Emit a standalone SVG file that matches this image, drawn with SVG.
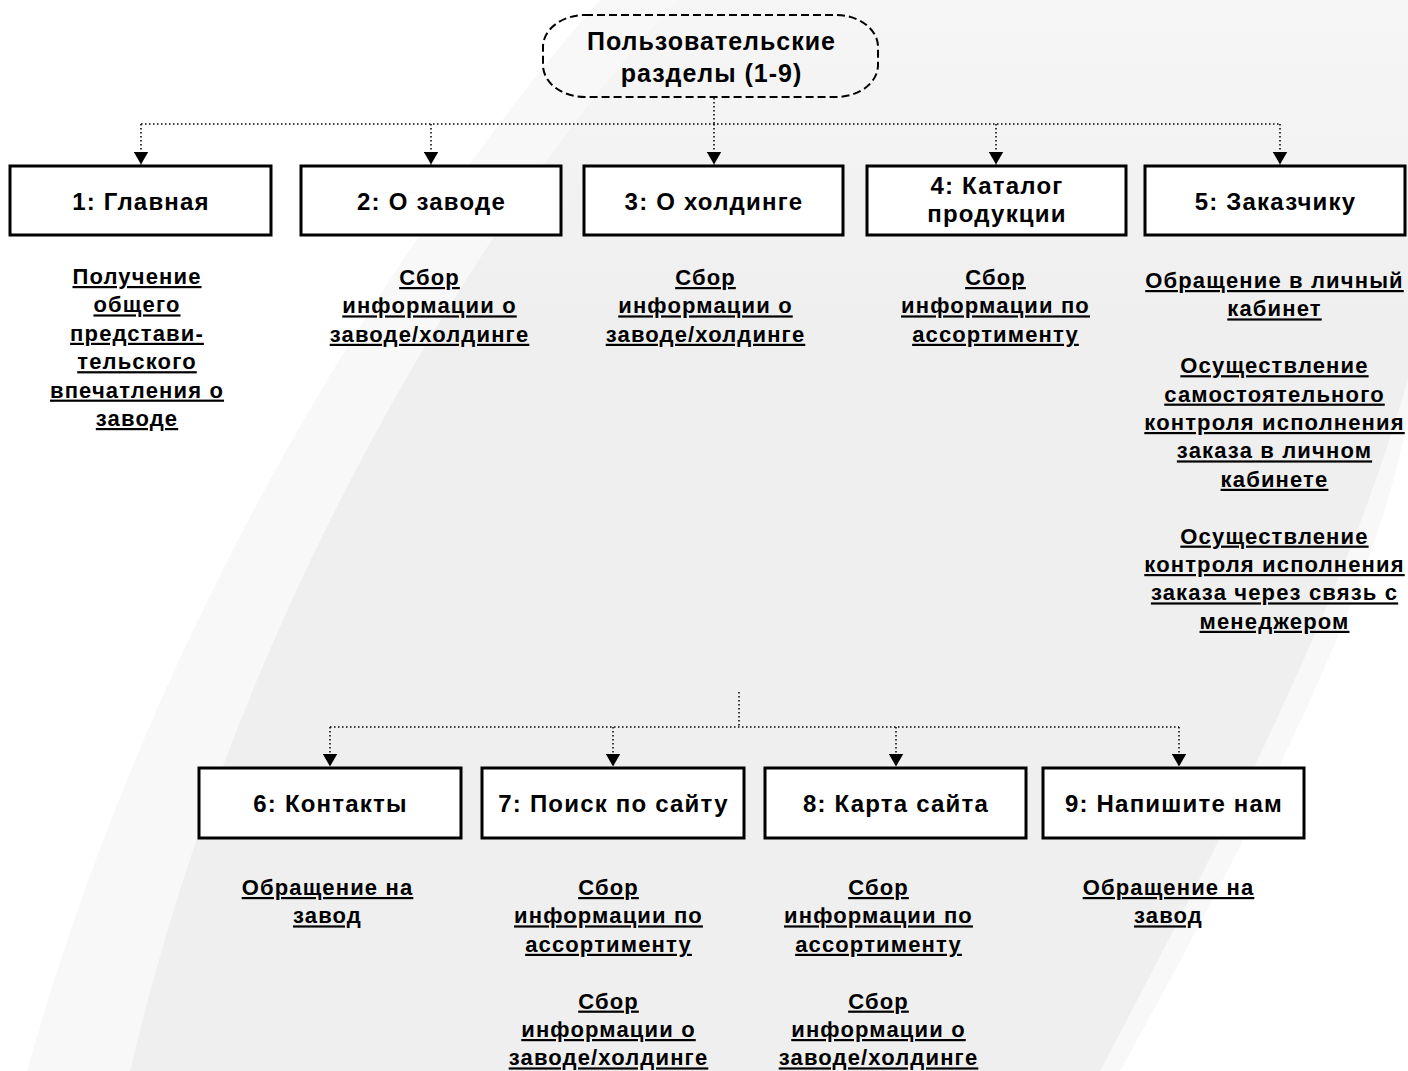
<svg xmlns="http://www.w3.org/2000/svg" width="1408" height="1071" viewBox="0 0 1408 1071">
<defs>
<linearGradient id="bgg" x1="0" y1="0" x2="0" y2="1">
<stop offset="0" stop-color="#f6f6f6"/>
<stop offset="0.3" stop-color="#efefef"/>
<stop offset="1" stop-color="#efefef"/>
</linearGradient>
<marker id="arr" markerWidth="14" markerHeight="15" refX="13" refY="7.5" orient="auto" markerUnits="userSpaceOnUse">
<path d="M0,0 L13,7.5 L0,15 Z" fill="#000"/>
</marker>
<style>
.box{fill:#fff;stroke:#000;stroke-width:3}
.lbl{font-family:"Liberation Sans",Arial,sans-serif;font-weight:bold;font-size:24px;letter-spacing:1.2px;fill:#000;text-anchor:middle}
.ttl{font-family:"Liberation Sans",Arial,sans-serif;font-weight:bold;font-size:25px;letter-spacing:1px;fill:#000;text-anchor:middle}
.dsc{font-family:"Liberation Sans",Arial,sans-serif;font-weight:bold;font-size:22px;letter-spacing:1.15px;fill:#000;text-anchor:middle;text-decoration:underline}
.dot{fill:none;stroke:#000;stroke-width:1.5;stroke-dasharray:1.5 2.5}
.arw{marker-end:url(#arr)}
</style>
</defs>
<g id="background">
<rect x="0" y="0" width="1408" height="1071" fill="url(#bgg)"/>
<path d="M0,0 L677,0 C520,170 250,560 130,1071 L0,1071 Z" fill="#f8f8f8"/>
<path d="M0,0 L600,0 C450,170 170,560 27,1071 L0,1071 Z" fill="#ffffff"/>
<path d="M1408,380 C1380,470 1340,620 1100,1071 L1408,1071 Z" fill="#f8f8f8"/>
<path d="M1408,420 C1390,500 1360,640 1120,1071 L1408,1071 Z" fill="#ffffff"/>
</g>
<g id="connectors">
<path class="dot" d="M714,98 L714,124"/>
<path class="dot" d="M141,124 L1280,124"/>
<path class="dot arw" d="M141,124 L141,164.5"/>
<path class="dot arw" d="M431,124 L431,164.5"/>
<path class="dot arw" d="M714,124 L714,164.5"/>
<path class="dot arw" d="M996,124 L996,164.5"/>
<path class="dot arw" d="M1280,124 L1280,164.5"/>
<path class="dot" d="M739,692 L739,727"/>
<path class="dot" d="M330,727 L1179,727"/>
<path class="dot arw" d="M330,727 L330,766.5"/>
<path class="dot arw" d="M613,727 L613,766.5"/>
<path class="dot arw" d="M896,727 L896,766.5"/>
<path class="dot arw" d="M1179,727 L1179,766.5"/>
</g>
<g id="root">
<rect x="543" y="15" width="335" height="82" rx="42" ry="32" fill="none" stroke="#000" stroke-width="2" stroke-dasharray="8 4"/>
<text class="ttl" x="711.5" y="50">Пользовательские</text>
<text class="ttl" x="711.5" y="82">разделы (1-9)</text>
</g>
<g id="n1">
<rect class="box" x="10" y="166" width="261" height="69"/>
<text class="lbl" x="141" y="210">1: Главная</text>
<text class="dsc"><tspan x="137" y="284">Получение</tspan><tspan x="137" y="312.4">общего</tspan><tspan x="137" y="340.8">представи-</tspan><tspan x="137" y="369.2">тельского</tspan><tspan x="137" y="397.6">впечатления о</tspan><tspan x="137" y="426">заводе</tspan></text>
</g>
<g id="n2">
<rect class="box" x="301" y="166" width="260" height="69"/>
<text class="lbl" x="431.5" y="210">2: О заводе</text>
<text class="dsc"><tspan x="429.5" y="285">Сбор</tspan><tspan x="429.5" y="313.4">информации о</tspan><tspan x="429.5" y="341.8">заводе/холдинге</tspan></text>
</g>
<g id="n3">
<rect class="box" x="584" y="166" width="259" height="69"/>
<text class="lbl" x="714" y="210">3: О холдинге</text>
<text class="dsc"><tspan x="705.5" y="285">Сбор</tspan><tspan x="705.5" y="313.4">информации о</tspan><tspan x="705.5" y="341.8">заводе/холдинге</tspan></text>
</g>
<g id="n4">
<rect class="box" x="867" y="166" width="259" height="69"/>
<text class="lbl" x="997" y="194">4: Каталог</text>
<text class="lbl" x="997" y="222">продукции</text>
<text class="dsc"><tspan x="995.5" y="285">Сбор</tspan><tspan x="995.5" y="313.4">информации по</tspan><tspan x="995.5" y="341.8">ассортименту</tspan></text>
</g>
<g id="n5">
<rect class="box" x="1145" y="166" width="260" height="69"/>
<text class="lbl" x="1275.5" y="210">5: Заказчику</text>
<text class="dsc"><tspan x="1274.5" y="288">Обращение в личный</tspan><tspan x="1274.5" y="316.4">кабинет</tspan><tspan x="1274.5" y="373.2">Осуществление</tspan><tspan x="1274.5" y="401.6">самостоятельного</tspan><tspan x="1274.5" y="430">контроля исполнения</tspan><tspan x="1274.5" y="458.4">заказа в личном</tspan><tspan x="1274.5" y="486.8">кабинете</tspan><tspan x="1274.5" y="543.6">Осуществление</tspan><tspan x="1274.5" y="572">контроля исполнения</tspan><tspan x="1274.5" y="600.4">заказа через связь с</tspan><tspan x="1274.5" y="628.8">менеджером</tspan></text>
</g>
<g id="n6">
<rect class="box" x="199" y="768" width="262" height="70"/>
<text class="lbl" x="330.5" y="812">6: Контакты</text>
<text class="dsc"><tspan x="327.5" y="895">Обращение на</tspan><tspan x="327.5" y="923.4">завод</tspan></text>
</g>
<g id="n7">
<rect class="box" x="482" y="768" width="262" height="70"/>
<text class="lbl" x="613.5" y="812">7: Поиск по сайту</text>
<text class="dsc"><tspan x="608.5" y="895">Сбор</tspan><tspan x="608.5" y="923.4">информации по</tspan><tspan x="608.5" y="951.8">ассортименту</tspan><tspan x="608.5" y="1008.6">Сбор</tspan><tspan x="608.5" y="1037">информации о</tspan><tspan x="608.5" y="1065.4">заводе/холдинге</tspan></text>
</g>
<g id="n8">
<rect class="box" x="765" y="768" width="261" height="70"/>
<text class="lbl" x="896" y="812">8: Карта сайта</text>
<text class="dsc"><tspan x="878.5" y="895">Сбор</tspan><tspan x="878.5" y="923.4">информации по</tspan><tspan x="878.5" y="951.8">ассортименту</tspan><tspan x="878.5" y="1008.6">Сбор</tspan><tspan x="878.5" y="1037">информации о</tspan><tspan x="878.5" y="1065.4">заводе/холдинге</tspan></text>
</g>
<g id="n9">
<rect class="box" x="1043" y="768" width="261" height="70"/>
<text class="lbl" x="1174" y="812">9: Напишите нам</text>
<text class="dsc"><tspan x="1168.5" y="895">Обращение на</tspan><tspan x="1168.5" y="923.4">завод</tspan></text>
</g>
</svg>
